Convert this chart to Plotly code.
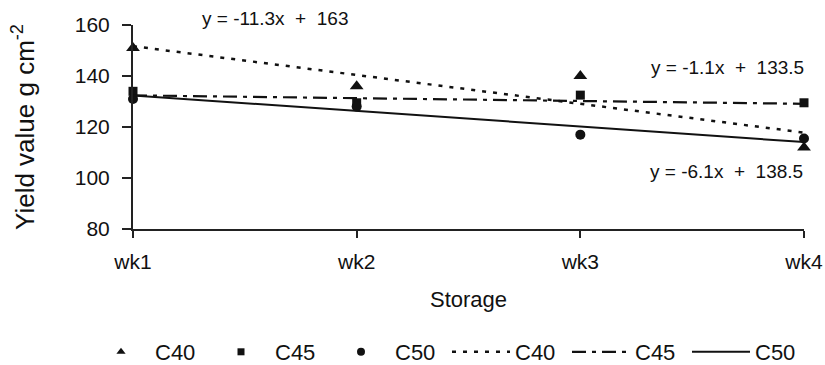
import plotly.graph_objects as go

weeks = [1, 2, 3, 4]
week_labels = ["wk1", "wk2", "wk3", "wk4"]
series_names = ["C40", "C45", "C50"]
c40 = [151, 136, 140, 112]
c45 = [134, 129.5, 132.5, 129.5]
c50 = [131, 128, 117, 115.5]
trend_slope = [-11.3, -1.1, -6.1]
trend_intercept = [163, 133.5, 138.5]
y_ticks = [80, 100, 120, 140, 160]

FONT = "Liberation Sans, Arial, sans-serif"
INK = "#111111"

fig = go.Figure()

symbols = ["triangle-up", "square", "circle"]
sizes = [12, 9, 10]
legend_sizes = [8, 7, 8]
for i, (name, vals, sym, sz, lsz) in enumerate(zip(series_names, [c40, c45, c50], symbols, sizes, legend_sizes)):
    fig.add_trace(go.Scatter(
        x=weeks, y=vals, mode="markers", name=name, showlegend=False,
        legendgroup="m%d" % i,
        marker=dict(symbol=sym, size=sz, color=INK),
        cliponaxis=False,
    ))
    # legend proxy with the smaller legend glyph
    fig.add_trace(go.Scatter(
        x=[None], y=[None], mode="markers", name=name, showlegend=True,
        legendgroup="m%d" % i, legendrank=i + 1,
        marker=dict(symbol=sym, size=lsz, color=INK),
    ))

dashes = ["4px,7px", "14px,6px,4px,6px", "solid"]
widths = [2.5, 2.2, 2]
for i, (name, m, b, d, w) in enumerate(zip(series_names, trend_slope, trend_intercept, dashes, widths)):
    fig.add_trace(go.Scatter(
        x=weeks, y=[m * x + b for x in weeks], mode="lines", name=name,
        legendrank=i + 4,
        line=dict(color=INK, width=w, dash=d),
        cliponaxis=False,
    ))

def eq_text(m, b):
    return "y = %gx  +  %g" % (m, b)

# annotation anchors: (x in data units, y in paper units)
eq_pos = [(1.634, 1.03), (3.66, 0.794), (3.655, 0.28)]
for (ex, ey), m, b in zip(eq_pos, trend_slope, trend_intercept):
    fig.add_annotation(x=ex, y=ey, xref="x", yref="paper", yanchor="middle", xanchor="center",
                       text=eq_text(m, b), showarrow=False,
                       font=dict(family=FONT, size=19, color=INK))

fig.update_layout(
    width=825, height=365,
    margin=dict(l=133, r=21, t=25, b=136, autoexpand=False),
    paper_bgcolor="white", plot_bgcolor="white",
    font=dict(family=FONT, color=INK, size=21),
    showlegend=True,
    legend=dict(
        orientation="h", xref="paper", yref="paper",
        x=(87 - 133) / 671, xanchor="left", y=(229 - 352) / 204, yanchor="middle",
        itemwidth=58, entrywidth=47, entrywidthmode="pixels",
        font=dict(family=FONT, size=22, color=INK),
        bgcolor="rgba(0,0,0,0)", borderwidth=0,
        tracegroupgap=0, traceorder="normal",
    ),
    xaxis=dict(
        range=[1, 4], tickmode="array", tickvals=weeks, ticktext=week_labels,
        showgrid=False, zeroline=False, showline=True, linecolor="#222222", linewidth=2,
        ticks="outside", ticklen=7, tickwidth=2, tickcolor="#222222",
        tickfont=dict(family=FONT, size=21, color=INK), ticklabelstandoff=6,
        title=dict(text="Storage", font=dict(family=FONT, size=22, color=INK), standoff=19),
    ),
    yaxis=dict(
        range=[80, 160], tickmode="array", tickvals=y_ticks,
        showgrid=False, zeroline=False, showline=True, linecolor="#222222", linewidth=2,
        ticks="outside", ticklen=9, tickwidth=2, tickcolor="#222222",
        tickfont=dict(family=FONT, size=21, color=INK), ticklabelstandoff=8,
        title=dict(text="Yield value g cm<sup>-2</sup>", font=dict(family=FONT, size=26, color=INK), standoff=33),
    ),
)

fig.write_html("out.html", config={"displayModeBar": False},
               post_script="document.body.style.margin='0';")
